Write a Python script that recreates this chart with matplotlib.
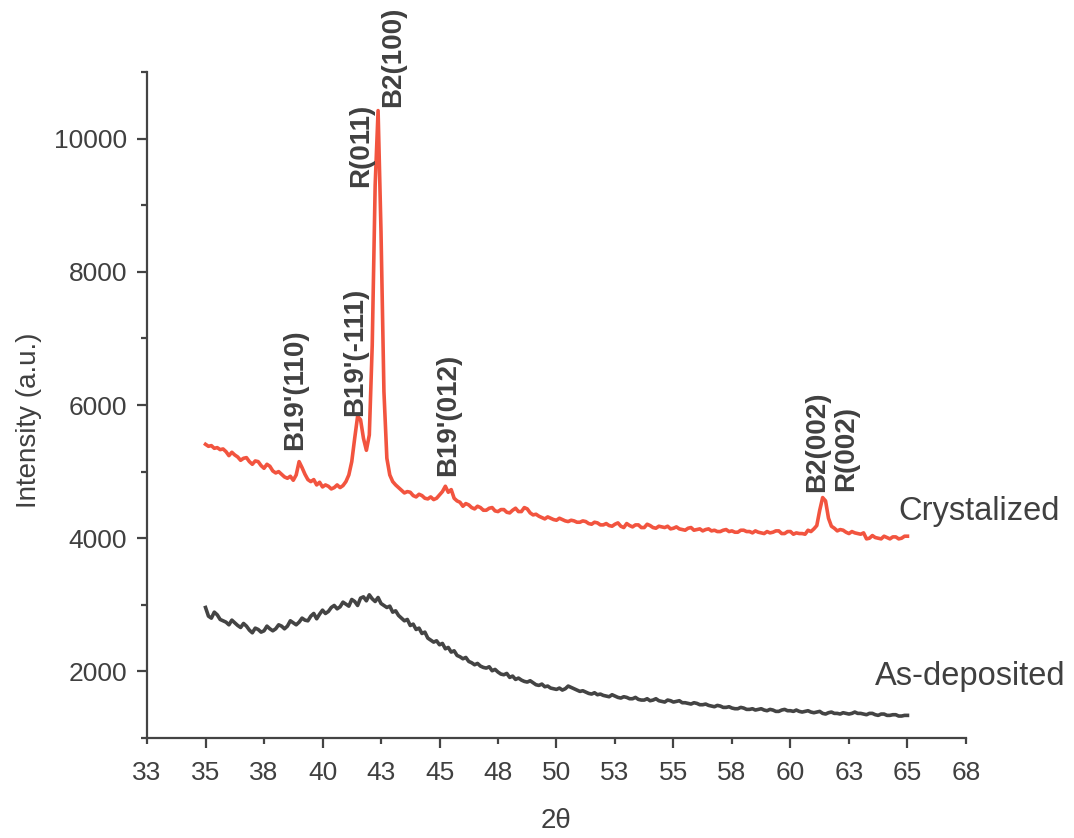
import numpy as np
import matplotlib
matplotlib.use("Agg")
import matplotlib.pyplot as plt

plt.rcParams["font.family"] = ["Liberation Sans", "DejaVu Sans"]

# both scans share the 35-65 deg grid, 0.125 deg steps (one row = one degree)
two_theta = np.arange(35.0, 65.0001, 0.125)

intensity_dep = [
    2960, 2830, 2800, 2890, 2850, 2780, 2760, 2740,
    2700, 2770, 2730, 2690, 2660, 2720, 2680, 2620,
    2580, 2650, 2630, 2590, 2610, 2680, 2640, 2610,
    2640, 2700, 2680, 2640, 2680, 2760, 2730, 2700,
    2740, 2800, 2770, 2760, 2830, 2870, 2790, 2860,
    2920, 2870, 2900, 2960, 2990, 2940, 2970, 3040,
    3010, 2980, 3080, 3050, 2990, 3100, 3120, 3060,
    3150, 3090, 3050, 3110, 3020, 2990, 2960, 2980,
    2890, 2910, 2840, 2800, 2760, 2780, 2690, 2710,
    2630, 2650, 2570, 2590, 2500, 2470, 2440, 2460,
    2400, 2420, 2340, 2360, 2290, 2310, 2240, 2220,
    2190, 2210, 2150, 2130, 2100, 2120, 2080, 2060,
    2050, 2070, 2010, 2030, 1990, 1960, 1950, 1970,
    1910, 1930, 1880, 1900, 1870, 1850, 1840, 1860,
    1830, 1800, 1790, 1810, 1770, 1780, 1750, 1740,
    1730, 1750, 1720, 1740, 1780, 1760, 1740, 1720,
    1700, 1710, 1690, 1670, 1660, 1680, 1650, 1660,
    1640, 1630, 1620, 1650, 1630, 1610, 1600, 1620,
    1610, 1590, 1590, 1610, 1580, 1570, 1570, 1590,
    1560, 1570, 1590, 1560, 1550, 1540, 1570, 1560,
    1540, 1550, 1560, 1530, 1530, 1520, 1510, 1530,
    1520, 1500, 1500, 1510, 1490, 1480, 1470, 1490,
    1480, 1460, 1460, 1470, 1450, 1440, 1440, 1460,
    1450, 1430, 1430, 1440, 1420, 1430, 1440, 1420,
    1410, 1430, 1420, 1400, 1400, 1420, 1430, 1410,
    1410, 1400, 1420, 1400, 1390, 1400, 1410, 1390,
    1380, 1390, 1400, 1370, 1360, 1380, 1390, 1370,
    1370, 1360, 1380, 1370, 1360, 1370, 1390, 1370,
    1370, 1360, 1350, 1370, 1370, 1350, 1340, 1360,
    1360, 1340, 1340, 1350, 1350, 1330, 1330, 1340,
    1340,
]

intensity_cryst = [
    5410, 5380, 5390, 5350, 5360, 5330, 5340, 5300,
    5240, 5290, 5250, 5220, 5170, 5200, 5210, 5150,
    5110, 5160, 5150, 5090, 5050, 5110, 5080, 5010,
    4980, 5000, 4960, 4920, 4900, 4930, 4870, 4950,
    5150, 5060, 4960, 4880, 4850, 4880, 4800, 4840,
    4770, 4800, 4780, 4740, 4760, 4800, 4760, 4790,
    4850, 4950, 5150, 5500, 5830, 5780, 5500, 5320,
    5550, 6900, 9300, 10420, 8600, 6200, 5200, 4950,
    4850, 4800, 4760, 4720, 4680, 4700, 4690, 4640,
    4620, 4660, 4640, 4600, 4590, 4620, 4580, 4600,
    4650, 4700, 4780, 4690, 4730, 4600, 4560, 4540,
    4480, 4520, 4500, 4460, 4440, 4480, 4460, 4420,
    4420, 4450, 4460, 4410, 4400, 4430, 4430, 4390,
    4380, 4420, 4450, 4400, 4400, 4460, 4440, 4380,
    4350, 4360, 4330, 4310, 4290, 4320, 4300, 4280,
    4270, 4300, 4280, 4260, 4250, 4270, 4260, 4240,
    4240, 4260, 4250, 4220, 4210, 4240, 4230, 4200,
    4200, 4220, 4190, 4180, 4210, 4230, 4180, 4160,
    4220, 4190, 4170, 4200, 4200, 4160, 4160, 4210,
    4190, 4160, 4150, 4180, 4170, 4160, 4180, 4140,
    4150, 4170, 4140, 4130, 4120, 4150, 4160, 4120,
    4130, 4140, 4110, 4130, 4140, 4110, 4120, 4100,
    4100, 4120, 4130, 4100, 4110, 4090, 4090, 4120,
    4120, 4100, 4100, 4080, 4110, 4090, 4080, 4070,
    4100, 4080, 4090, 4110, 4110, 4070, 4070, 4100,
    4100, 4060, 4080, 4070, 4070, 4060, 4120, 4100,
    4140, 4190, 4420, 4610, 4560, 4300, 4180, 4150,
    4110, 4130, 4120, 4090, 4070, 4100, 4080, 4070,
    4060, 4080, 3990, 4000, 4040, 4010, 4000, 3990,
    4030, 4010, 3990, 4020, 4020, 3990, 4000, 4030,
    4030,
]

# peak labels: text, 2theta, intensity at the foot of the label
peak_names = ["B19'(110)", "B19'(-111)", "R(011)", "B2(100)", "B19'(012)", "B2(002)", "R(002)"]
peak_pos = [38.82, 41.39, 41.65, 43.01, 45.36, 61.13, 62.37]
peak_foot = [5330, 5830, 9280, 10480, 4930, 4690, 4710]

x_major = [35, 40, 45, 50, 55, 60, 65]
x_major_labels = ["35", "40", "45", "50", "55", "60", "65"]
x_minor = [32.5, 37.5, 42.5, 47.5, 52.5, 57.5, 62.5, 67.5]
x_minor_labels = ["33", "38", "43", "48", "53", "58", "63", "68"]

red = "#f2543f"
dark = "#444444"
txt = "#404040"

fig = plt.figure(figsize=(10.74, 8.38), dpi=100)
ax = fig.add_axes([0.1369, 0.1193, 0.7625, 0.7948])

ax.plot(two_theta, intensity_cryst, color=red, lw=2.6)
ax.plot(two_theta, intensity_dep, color=dark, lw=2.6)

for name, px, py in zip(peak_names, peak_pos, peak_foot):
    ax.text(px, py, name, rotation=90, ha="center", va="bottom",
            fontsize=20, fontweight="bold", color=txt)

ax.text(64.6, 4270, "Crystalized", fontsize=23.5, color=txt, va="baseline")
ax.text(63.6, 1800, "As-deposited", fontsize=23.5, color=txt, va="baseline")

ax.set_xlim(32.5, 67.5)
ax.set_ylim(1000, 11000)
ax.set_xticks(x_major, labels=x_major_labels)
ax.set_xticks(x_minor, labels=x_minor_labels, minor=True)
ax.set_yticks([2000, 4000, 6000, 8000, 10000])
ax.set_yticks([1000, 3000, 5000, 7000, 9000, 11000], minor=True)

for s in ["top", "right"]:
    ax.spines[s].set_visible(False)
for s in ["left", "bottom"]:
    ax.spines[s].set_color(dark)
    ax.spines[s].set_linewidth(1.6)

ax.tick_params(which="both", direction="out", color=dark, width=1.6,
               labelcolor=txt, labelsize=19)
ax.tick_params(axis="x", which="major", length=7.5, pad=9)
ax.tick_params(axis="x", which="minor", length=4.5, pad=9 + 3)
ax.tick_params(axis="y", which="major", length=7.5, pad=7)
ax.tick_params(axis="y", which="minor", length=4.5)

ax.set_xlabel("2θ", fontsize=20, color=txt)
ax.set_ylabel("Intensity (a.u.)", fontsize=20, color=txt)
ax.xaxis.set_label_coords(0.5, -0.105)
ax.yaxis.set_label_coords(-0.128, 0.477)

fig.savefig("out.png", dpi=100)
